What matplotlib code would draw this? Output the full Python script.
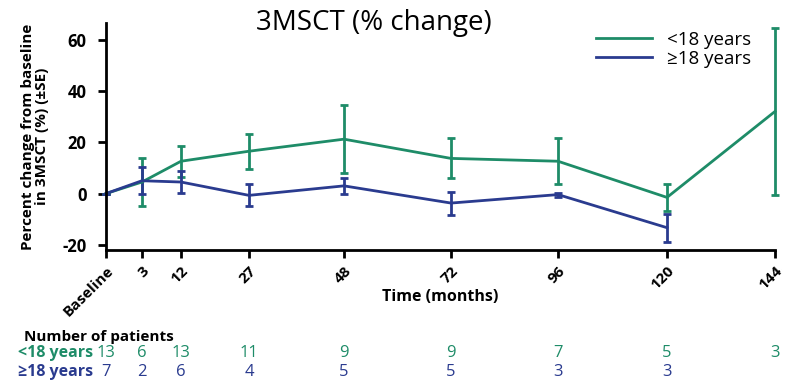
import numpy as np
import matplotlib
matplotlib.use('Agg')
from matplotlib import pyplot as plt
from matplotlib import transforms
from matplotlib.lines import Line2D

plt.rcParams['font.family'] = ['Open Sans', 'DejaVu Sans']
plt.rcParams['axes.unicode_minus'] = False

# Data
months = [0, 3, 12, 27, 48, 72, 96, 120, 144]
tick_labels = ['Baseline', '3', '12', '27', '48', '72', '96', '120', '144']

young_x = [0, 3, 12, 27, 48, 72, 96, 120, 144]
young_y = [0, 4.5, 12.6, 16.5, 21.2, 13.7, 12.6, -1.5, 32.0]
young_se = [0, 9.2, 6.0, 6.8, 13.3, 7.8, 8.9, 5.3, 32.6]

adult_x = [0, 3, 12, 27, 48, 72, 96, 120]
adult_y = [0, 5.0, 4.5, -0.7, 3.0, -3.7, -0.4, -13.3]
adult_se = [0, 5.2, 4.4, 4.3, 3.2, 4.5, 0.8, 5.4]

n_young = [13, 6, 13, 11, 9, 9, 7, 5, 3]
n_adult = [7, 2, 6, 4, 5, 5, 3, 3]

green = '#1e8c68'
blue = '#2a3b8f'

# the time axis in the original is stretched at the start
knots = [106, 142, 181, 249, 344, 451, 558, 667, 775]


def fwd(x):
    return np.interp(x, months, knots)


def inv(x):
    return np.interp(x, knots, months)


fig = plt.figure(figsize=(7.88, 3.82), dpi=100)
ax = fig.add_axes([0.1345, 0.3455, 0.849, 0.5945])
ax.set_xscale('function', functions=(fwd, inv))

ax.errorbar(young_x, young_y, yerr=young_se, color=green, lw=2, capsize=3,
            capthick=2, elinewidth=2, clip_on=False)
ax.errorbar(adult_x, adult_y, yerr=adult_se, color=blue, lw=2, capsize=3,
            capthick=2, elinewidth=2, clip_on=False)

ax.set_xlim(0, 144)
ax.set_ylim(-22, 66.5)
ax.set_yticks([-20, 0, 20, 40, 60])
ax.set_xticks(months)
ax.set_xticklabels(tick_labels, rotation=45, ha='right', rotation_mode='anchor')
for lab in ax.get_xticklabels():
    lab.set_fontweight('bold')
    lab.set_fontsize(11)
for lab in ax.get_yticklabels():
    lab.set_fontweight('bold')
    lab.set_fontsize(12)
ax.tick_params(axis='both', direction='out', width=2, length=6)
ax.tick_params(axis='y', pad=8)
ax.tick_params(axis='x', pad=4)

for s in ['top', 'right']:
    ax.spines[s].set_visible(False)
for s in ['left', 'bottom']:
    ax.spines[s].set_linewidth(2)

ax.set_ylabel('Percent change from baseline\nin 3MSCT (%) (±SE)', fontweight='bold',
              fontsize=11, linespacing=1.05)
ax.yaxis.set_label_coords(-0.085, 0.5)
ax.set_xlabel('Time (months)', fontweight='bold', fontsize=11.5)
ax.xaxis.set_label_coords(0.5, -0.17)

handles = [Line2D([], [], color=green, lw=2), Line2D([], [], color=blue, lw=2)]
ax.legend(handles, ['<18 years', '≥18 years'], loc='upper right',
          bbox_to_anchor=(0.99, 1.04), frameon=False, fontsize=13.5,
          handlelength=3.0, handletextpad=0.8, labelspacing=0.05)

fig.text(0.474, 0.94, '3MSCT (% change)', fontsize=20, ha='center', va='center')

# number of patients table
tr = transforms.blended_transform_factory(ax.transData, fig.transFigure)
fig.text(0.031, 0.118, 'Number of patients', fontsize=11, fontweight='bold', va='center')
fig.text(0.118, 0.077, '<18 years', fontsize=11.5, fontweight='bold', color=green,
         ha='right', va='center')
fig.text(0.118, 0.025, '≥18 years', fontsize=11.5, fontweight='bold', color=blue,
         ha='right', va='center')
for m, n in zip(months, n_young):
    ax.text(m, 0.077, str(n), transform=tr, ha='center', va='center', fontsize=12, color=green)
for m, n in zip(months, n_adult):
    ax.text(m, 0.025, str(n), transform=tr, ha='center', va='center', fontsize=12, color=blue)

fig.savefig('out.png', dpi=100)
